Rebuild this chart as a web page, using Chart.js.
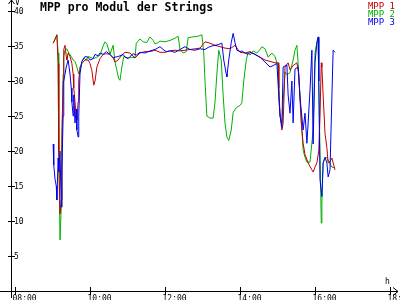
<!DOCTYPE html>
<html>
<head>
<meta charset="utf-8">
<script src="https://cdn.jsdelivr.net/npm/chart.js@4/dist/chart.umd.min.js"></script>
<style>
  html, body { margin: 0; padding: 0; background: #fff; }
  #wrap { width: 400px; height: 300px; }
</style>
</head>
<body>
<div id="wrap"><canvas id="mpp-graph" width="400" height="300"></canvas></div>
<script>
let titleText = 'MPP pro Modul der Strings';
let seriesNames = ['MPP 1', 'MPP 2', 'MPP 3'];
let colour = ['#c00000', '#00b000', '#0000f0'];
let hourTicks = [8, 10, 12, 14, 16, 18];
let voltTicks = [5, 10, 15, 20, 25, 30, 35, 40];

// MPP 1 (red)
let times1 = ['9:01','9:04','9:07','9:09','9:10','9:12','9:14','9:15','9:17','9:18','9:20','9:22','9:23','9:25','9:28','9:31','9:33','9:34','9:36','9:38','9:39','9:41','9:42','9:44','9:47','9:52','9:57','10:00','10:03','10:06','10:08','10:11','10:16','10:21','10:26','10:32','10:37','10:40','10:45','10:48','10:56','11:04','11:12','11:20','11:28','11:36','11:44','11:52','12:00','12:08','12:16','12:24','12:32','12:40','12:48','12:56','13:04','13:12','13:20','13:28','13:36','13:44','13:52','14:00','14:08','14:16','14:24','14:32','14:40','14:48','14:56','15:01','15:02','15:04','15:07','15:09','15:12','15:17','15:20','15:25','15:31','15:34','15:38','15:41','15:44','15:49','15:55','15:57','16:00','16:03','16:06','16:08','16:10','16:11','16:13','16:16','16:19','16:21','16:24','16:27','16:30','16:32'];
let mpp1 = [35.4,35.9,36.6,32.5,20,11,13,22,30,34.5,35.1,33.5,33.0,34,33.5,32.5,31,29,27,25,24.4,27,30,32,32.5,33,33,32.5,31.5,29.4,30,32,33.2,33.8,33.9,33.8,33.3,32.7,33,33.4,34.1,34,33.3,34,34.2,34.2,34.4,34.1,34.1,34.3,34.4,34.3,34.4,34.5,34.6,34.7,35.6,35.4,35.1,34.9,34.7,34.6,35.1,34.1,34,34.2,33.8,33.4,33,32.8,32.6,32.6,29,25.4,23,24,32,32.6,31.6,32.2,32.6,31,24,21.1,19.5,18.3,17.3,17,17.7,18.3,20,25,32.6,32,28,22.5,20.5,18.3,18.5,19,18,17.3];

// MPP 2 (green)
let times2 = ['9:01','9:04','9:07','9:09','9:10','9:12','9:14','9:15','9:17','9:18','9:20','9:23','9:26','9:30','9:33','9:36','9:39','9:42','9:44','9:47','9:50','9:54','9:57','10:00','10:05','10:08','10:13','10:16','10:21','10:24','10:27','10:32','10:37','10:40','10:43','10:46','10:48','10:51','10:54','11:01','11:07','11:12','11:14','11:20','11:25','11:31','11:36','11:41','11:44','11:49','11:52','12:00','12:08','12:16','12:21','12:24','12:29','12:34','12:37','12:45','12:53','12:59','13:02','13:04','13:07','13:12','13:17','13:20','13:23','13:26','13:30','13:33','13:36','13:39','13:42','13:46','13:49','13:54','14:00','14:03','14:06','14:10','14:13','14:16','14:21','14:27','14:32','14:35','14:40','14:45','14:51','14:56','14:59','15:01','15:02','15:04','15:07','15:09','15:12','15:15','15:20','15:25','15:28','15:31','15:33','15:36','15:39','15:41','15:44','15:47','15:52','15:57','16:00','16:03','16:05','16:06','16:08','16:10','16:11','16:13','16:16','16:19','16:22','16:27','16:32'];
let mpp2 = [35.4,36,36.6,34,20,7.3,12,20,31,33.5,34.4,34.6,34,33.5,33,32.8,32,31,31.5,32.8,33.3,33,33.5,33.4,33.2,33.3,33.5,33.7,35,35.6,35.3,33.8,35.1,32.7,31.5,30.3,30.1,32,33.5,33.3,33.4,33.3,35.4,36,35.6,35.5,36.3,35.8,35.3,35.5,35.7,35.6,35.8,36.1,36.4,34.5,34,34.2,36.2,36.3,36.4,36.6,34,30,25,24.7,24.7,27,31,34.4,33,28,24,22,21.5,23,25.5,26.2,26.5,26.9,30,33,34.1,33.7,34.3,34,34.5,34.9,34.6,33.4,34,33.5,32.6,32.2,28,25,24,27,31.3,30.9,31.2,33,34.4,35.1,32.5,27.7,23,20.1,19.1,18.4,18.4,23,34,35.6,36.1,30,20,9.7,12.6,18.3,19,19.1,18.5,17.7,17.6];

// MPP 3 (blue)
let times3 = ['9:01','9:02','9:04','9:06','9:07','9:09','9:10','9:12','9:14','9:15','9:17','9:18','9:22','9:25','9:28','9:30','9:31','9:33','9:34','9:36','9:38','9:39','9:41','9:42','9:44','9:47','9:52','9:57','10:00','10:05','10:08','10:13','10:16','10:21','10:26','10:32','10:37','10:40','10:45','10:48','10:53','10:56','11:01','11:04','11:09','11:14','11:20','11:28','11:36','11:44','11:52','11:57','12:02','12:08','12:16','12:24','12:32','12:40','12:48','12:56','13:04','13:09','13:15','13:20','13:25','13:31','13:34','13:38','13:39','13:42','13:46','13:49','13:52','13:55','14:00','14:03','14:08','14:13','14:16','14:24','14:32','14:40','14:48','14:53','14:59','15:02','15:04','15:07','15:09','15:15','15:17','15:20','15:23','15:25','15:28','15:33','15:36','15:41','15:44','15:47','15:49','15:52','15:55','15:57','16:00','16:03','16:05','16:06','16:08','16:11','16:13','16:16','16:19','16:21','16:24','16:27','16:29','16:32'];
let mpp3 = [21,18,16,15,13,19,17,20,12,17,25,30,32,33,31,29,27,25,28,24,26,23,22,25,31,32.8,33.5,33.4,33,33.2,33.8,33.6,34,33.8,34.2,33.8,33.3,33.4,33.5,33.6,33.8,33.4,33.2,33.5,33.9,33.7,34.1,34,34.3,34.5,34.9,34.5,34.2,34.3,34.1,34.5,34.9,34.5,34.4,34.6,34.5,34.8,35,35.1,35.2,35.4,33,31,30.6,33,35.5,36.8,35.5,34.4,34.2,34.3,34,33.8,34.1,33.8,33.4,32.7,32,32.2,32.5,28,25,23.4,32,32.3,28,25.4,30,24,31.7,32,27.7,23,25.4,21.1,24,28.7,34.4,21,32.6,35.4,36.3,30,15.9,13.5,18.3,19.1,18.3,16.3,17.3,27.7,34.4,34.1];

function toHours(t) {
    let parts = t.split(':');
    return Number(parts[0]) + Number(parts[1]) / 60;
}

function makePoints(times, values) {
    let pts = [];
    for (let i = 0; i < times.length; i++) {
        pts.push({ x: toHours(times[i]), y: values[i] });
    }
    return pts;
}

function pad(n) {
    return (n < 10 ? '0' : '') + n + ':00';
}

// draws the plain axes with arrows, title and legend text
let axisPlugin = {
    id: 'axisPlugin',
    afterDraw: function (chart) {
        let c = chart.ctx;
        let xs = chart.scales.x;
        let ys = chart.scales.y;
        let axisX = chart.chartArea.left - 4;
        let axisY = ys.getPixelForValue(0) - 0.5;

        c.save();
        c.strokeStyle = '#000';
        c.fillStyle = '#000';
        c.lineWidth = 1;

        // y axis + arrow
        c.beginPath();
        c.moveTo(axisX + 0.5, 0);
        c.lineTo(axisX + 0.5, 298);
        c.moveTo(axisX - 2.5, 4);
        c.lineTo(axisX + 0.5, 0);
        c.lineTo(axisX + 3.5, 4);
        // x axis + arrow
        c.moveTo(0, Math.round(axisY) + 0.5);
        c.lineTo(398, Math.round(axisY) + 0.5);
        c.moveTo(393, Math.round(axisY) - 3.5);
        c.lineTo(398, Math.round(axisY) + 0.5);
        c.lineTo(393, Math.round(axisY) + 4.5);
        c.stroke();

        // y ticks
        c.font = '8px "DejaVu Sans Mono"';
        c.textAlign = 'left';
        c.textBaseline = 'middle';
        voltTicks.forEach(function (v) {
            let py = Math.round(ys.getPixelForValue(v)) + 0.5;
            c.beginPath();
            c.moveTo(axisX - 3, py);
            c.lineTo(axisX + 4, py);
            c.stroke();
            c.fillText(String(v), axisX + 3, py);
        });

        // x ticks
        c.textBaseline = 'top';
        hourTicks.forEach(function (h) {
            let px = Math.round(xs.getPixelForValue(h)) + 0.5;
            c.beginPath();
            c.moveTo(px, axisY - 3.5);
            c.lineTo(px, axisY + 4.5);
            c.stroke();
            c.fillText(pad(h), px - 3, axisY + 4);
        });

        // unit labels
        c.textBaseline = 'alphabetic';
        c.fillText('V', axisX + 4, 5);
        c.fillText('h', 385, 284);

        // title
        c.font = 'bold 11.5px "DejaVu Sans Mono"';
        c.fillText(titleText, 40, 11);

        // legend
        c.font = '9px "DejaVu Sans Mono"';
        c.textAlign = 'right';
        chart.data.datasets.forEach(function (ds, i) {
            c.fillStyle = ds.borderColor;
            c.fillText(ds.label, 395, 8.5 + i * 8);
        });
        c.restore();
    }
};

let ctx = document.querySelector('#mpp-graph').getContext('2d');

let myChart = new Chart(ctx, {
    type: 'line',
    data: {
        datasets: [
            { label: seriesNames[0], data: makePoints(times1, mpp1), borderColor: colour[0], order: 2 },
            { label: seriesNames[1], data: makePoints(times2, mpp2), borderColor: colour[1], order: 3 },
            { label: seriesNames[2], data: makePoints(times3, mpp3), borderColor: colour[2], order: 1 }
        ]
    },
    options: {
        responsive: false,
        animation: false,
        devicePixelRatio: 1,
        layout: { padding: { left: 15, right: 10, top: 11, bottom: 9 } },
        elements: {
            line: { borderWidth: 1, tension: 0 },
            point: { radius: 0 }
        },
        scales: {
            x: { type: 'linear', min: 8, max: 18, display: false },
            y: { min: 0, max: 40, display: false }
        },
        plugins: {
            legend: { display: false },
            tooltip: { enabled: false }
        }
    },
    plugins: [axisPlugin]
});
</script>
</body>
</html>
